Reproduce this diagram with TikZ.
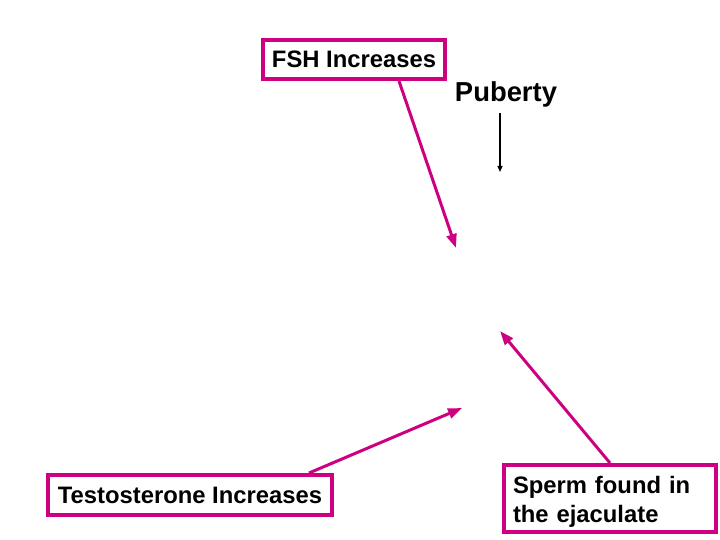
\documentclass[tikz,border=0pt]{standalone}
\usepackage{fontspec}
\setmainfont{Liberation Sans}
\usetikzlibrary{arrows.meta}
\definecolor{mag}{RGB}{204,0,128}
\tikzset{
  box/.style={draw=mag, line width=4pt, inner sep=0pt, font=\bfseries\fontsize{23.8}{29}\selectfont},
  magarrow/.style={draw=mag, line width=3pt, -{Triangle[length=14pt,width=10pt]}},
  blackarrow/.style={draw=black, line width=1.3pt, -{Triangle[length=6pt,width=5pt]}}
}
\begin{document}
\begin{tikzpicture}[x=1pt,y=-1pt]
\useasboundingbox (0,0) rectangle (720,540);
\node[box, minimum width=182pt, minimum height=39pt] (fsh) at (354,59.5) {FSH Increases};
\node[font=\bfseries\fontsize{27.4}{32}\selectfont, inner sep=0pt, anchor=base] (pub) at (506,102) {Puberty};
\node[box, minimum width=284pt, minimum height=40pt] (testo) at (190,495) {Testosterone Increases};
\node[box, minimum width=212pt, minimum height=67pt, text width=194pt, align=left, inner xsep=9pt] (sperm) at (610,498.5) {\rule{0pt}{24pt}Sperm found in\\the ejaculate};
\coordinate (fshtip) at (456,248);
\coordinate (testotip) at (462,408);
\coordinate (spermtip) at (500,331);
\coordinate (pubstart) at (500,113);
\coordinate (pubtip) at (500,172);
\draw[magarrow] ([xshift=138pt]fsh.south west) -- (fshtip);
\draw[magarrow] ([xshift=-25pt]testo.north east) -- (testotip);
\draw[magarrow] (sperm.north) -- (spermtip);
\draw[blackarrow] (pubstart) -- (pubtip);
\end{tikzpicture}
\end{document}
